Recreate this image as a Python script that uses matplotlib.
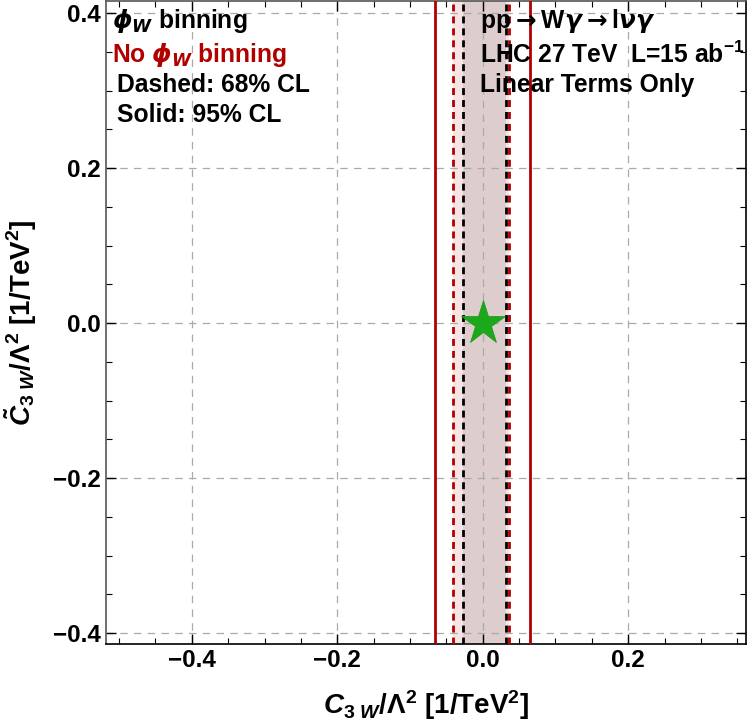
import numpy as np
import matplotlib.pyplot as plt
from matplotlib.ticker import MultipleLocator

plt.rcParams['font.family'] = ['Liberation Sans', 'DejaVu Sans']
plt.rcParams['font.weight'] = 'bold'
plt.rcParams['mathtext.fontset'] = 'custom'
plt.rcParams['mathtext.rm'] = 'Liberation Sans:bold'
plt.rcParams['mathtext.bf'] = 'Liberation Sans:bold'
plt.rcParams['mathtext.it'] = 'Liberation Sans:italic:bold'

# bounds on C3W/Lambda^2 [1/TeV^2]
binned_68 = [-0.0267, 0.032]      # phi_W binning, dashed
nobin_68 = [-0.0413, 0.0366]      # no phi_W binning, dashed
nobin_95 = [-0.0656, 0.065]       # no phi_W binning, solid
best_fit = (0.0, 0.0)

xlim = (-0.518, 0.362)
ylim = (-0.414, 0.4155)

red = '#B00000'

fig = plt.figure(figsize=(7.5, 7.28), dpi=100)
ax = fig.add_axes([0.1413, 0.1154, 0.8534, 0.8832])

ax.axvspan(*nobin_68, color='#F7E4E4', lw=0, zorder=0)
ax.axvspan(*binned_68, color='#DDCDCD', lw=0, zorder=0)

ax.grid(True, which='major', color='#AAAAAA', ls=(0, (6, 5)), lw=0.9, zorder=1)

for x in nobin_95:
    ax.axvline(x, color=red, lw=2.0, zorder=3)
for x in nobin_68:
    ax.axvline(x, color=red, lw=2.0, ls=(0, (2.5, 1.8)), zorder=3)
for x in binned_68:
    ax.axvline(x, color='black', lw=2.0, ls=(0, (2.5, 1.8)), zorder=3)

ax.plot(*best_fit, marker='*', ms=33, color='#1CA81C', mec='#1A961A', mew=0.5, zorder=5)

ax.set_xlim(*xlim)
ax.set_ylim(*ylim)
ax.xaxis.set_major_locator(MultipleLocator(0.2))
ax.xaxis.set_minor_locator(MultipleLocator(0.05))
ax.yaxis.set_major_locator(MultipleLocator(0.2))
ax.yaxis.set_minor_locator(MultipleLocator(0.05))
ax.xaxis.set_major_formatter(lambda v, p: f'{v:.1f}'.replace('-', '\u2212'))
ax.yaxis.set_major_formatter(lambda v, p: f'{v:.1f}'.replace('-', '\u2212'))
ax.tick_params(which='both', direction='in', top=True, right=True, labelsize=17.5)
ax.tick_params(which='major', length=7, width=1)
ax.tick_params(which='minor', length=4, width=0.8)
for lab in ax.get_xticklabels() + ax.get_yticklabels():
    lab.set_fontweight('bold')
for s in ax.spines.values():
    s.set_linewidth(1.2)
ax.spines['left'].set_color('#555555')
ax.spines['top'].set_color('#555555')

ax.set_xlabel(r'$C_{3\ W}/\Lambda^2$ [1/TeV$^2$]', fontsize=20, fontweight='bold', labelpad=12)
ax.set_ylabel(r'$\tilde{C}_{3\ W}/\Lambda^2$ [1/TeV$^2$]', fontsize=20, fontweight='bold', labelpad=10)

fs = 17.7
kw = dict(transform=ax.transAxes, fontsize=fs, fontweight='bold', va='baseline', ha='left')
ax.text(0.009, 0.958, r'$\phi_W$ binning', math_fontfamily='dejavusans', **kw)
ax.text(0.009, 0.905, r'No $\phi_W$ binning', math_fontfamily='dejavusans', color=red, **kw)
ax.text(0.017, 0.858, 'Dashed: 68% CL', **kw)
ax.text(0.017, 0.812, 'Solid: 95% CL', **kw)

ax.text(0.584, 0.958, r'pp$\rightarrow$W$\gamma\rightarrow$l$\nu\gamma$', math_fontfamily='dejavusans', **kw)
ax.text(0.584, 0.904, r'LHC 27 TeV  L=15 ab$^{-1}$', **kw)
ax.text(0.584, 0.858, 'Linear Terms Only', **kw)

fig.savefig('out.png', dpi=100)
